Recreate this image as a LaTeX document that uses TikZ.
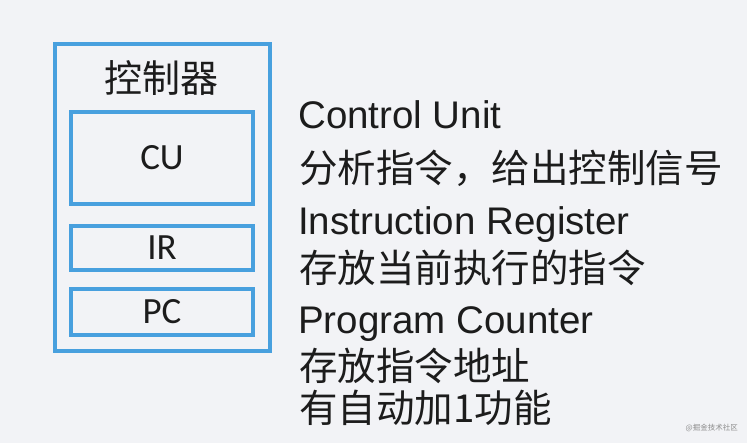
\documentclass[tikz,border=0pt]{standalone}
\usepackage{fontspec}
\setmainfont{Liberation Sans}
\newfontfamily\cjkfont{Noto Sans CJK SC}
\newfontfamily\boxfont{Carlito}
\usepackage{xcolor}
\usepackage{tikz}

\definecolor{slideblue}{RGB}{72,160,222}
\definecolor{slidebg}{RGB}{242,243,246}
\definecolor{ink}{RGB}{28,28,28}

\begin{document}
\begin{tikzpicture}[x=1pt,y=-1pt,
  regbox/.style={draw=slideblue,line width=4pt,minimum width=182pt,inner sep=0pt,
    font=\boxfont\fontsize{37}{37}\selectfont,text=ink},
  engtext/.style={anchor=base west,inner sep=0pt,font=\fontsize{38.5}{38.5}\selectfont,text=ink},
  chntext/.style={anchor=base west,inner sep=0pt,font=\cjkfont\fontsize{38.5}{38.5}\selectfont,text=ink}]
% Background
\fill[slidebg] (0,0) rectangle (747,443);
\useasboundingbox (0,0) rectangle (747,443);

% Controller box
\node[draw=slideblue,line width=4pt,minimum width=215.5pt,minimum height=307pt,inner sep=0pt] (ctrl) at (162.25,198) {};
\node[anchor=base,inner sep=0pt,font=\cjkfont\fontsize{38}{38}\selectfont,text=ink] (title) at (161,93) {控制器};

% Registers
\node[regbox,minimum height=92pt] (cu) at (162,158) {CU};
\node[regbox,minimum height=44pt] (ir) at (162,247.6) {IR};
\node[regbox,minimum height=46.5pt] (pc) at (162,312) {PC};

% Descriptions
\node[engtext] (cuname) at (298,129) {Control Unit};
\node[chntext] (cudesc) at (299,183) {分析指令，给出控制信号};
\node[engtext] (irname) at (298,235) {Instruction Register};
\node[chntext] (irdesc) at (299,283) {存放当前执行的指令};
\node[engtext] (pcname) at (298,334) {Program Counter};
\node[chntext] (pcdesc) at (299,381) {存放指令地址};
\node[chntext] (pcinc) at (299,423) {有自动加1功能};

% Watermark
\node[anchor=east,inner sep=0pt,font=\cjkfont\fontsize{7.5}{7.5}\selectfont,text=black!45] (mark) at (738,428) {@掘金技术社区};
\end{tikzpicture}
\end{document}
